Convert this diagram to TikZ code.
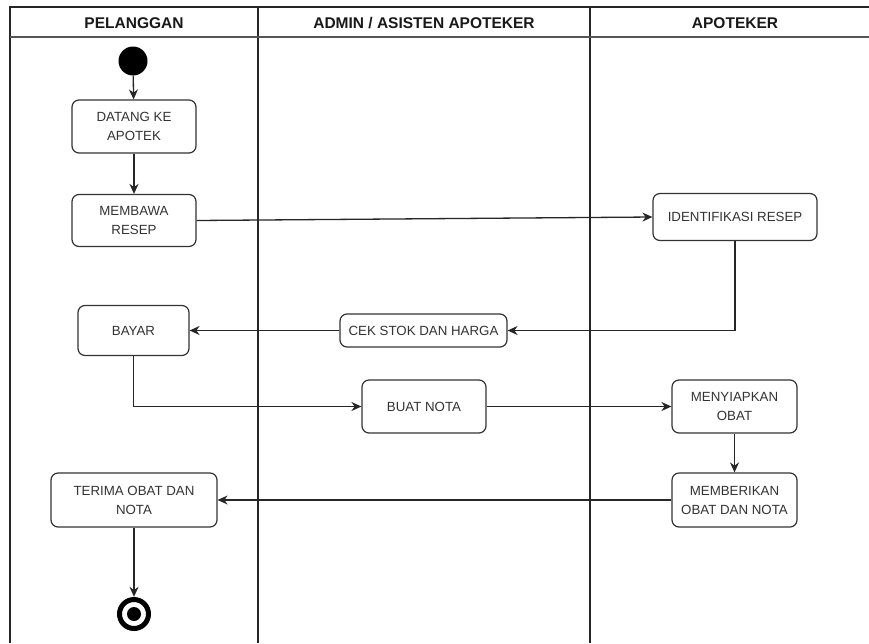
\documentclass[tikz,border=0pt]{standalone}
\usepackage{fontspec}
\setmainfont{Liberation Sans}
\usetikzlibrary{arrows.meta}
\definecolor{lineC}{HTML}{333333}
\definecolor{textC}{HTML}{333333}
\definecolor{headLine}{HTML}{555555}
\begin{document}
\begin{tikzpicture}[x=1pt,y=-1pt,
  act/.style={draw=lineC, line width=1.2pt, rounded corners=7pt, fill=white,
    align=center, font=\fontsize{13.3}{19}\selectfont, text=textC, inner sep=0pt},
  lane/.style={draw=black!85, line width=1.3pt},
  head/.style={font=\bfseries\fontsize{15.5}{18}\selectfont, text=black!90},
  flow/.style={draw=black!85, line width=1.3pt, -{Stealth[length=10pt,width=9pt]}},
  startnode/.style={circle, fill=black, minimum size=29pt, inner sep=0pt},
]
\useasboundingbox (0,0) rectangle (869,643);
\fill[white] (0,0) rectangle (869,643);

% swimlane frame
\draw[lane] (10,643) -- (10,7) -- (869,7);
\draw[lane] (258,7) -- (258,643);
\draw[lane] (590,7) -- (590,643);
\draw[draw=headLine, line width=2.2pt] (10,37) -- (869,37);

\node[head] (h1) at (134,23) {PELANGGAN};
\node[head] (h2) at (424,23) {ADMIN / ASISTEN APOTEKER};
\node[head] (h3) at (735,23) {APOTEKER};

% nodes
\node[startnode] (start) at (133,61) {};
\node[act, minimum width=124pt, minimum height=53pt] (datang) at (134,126.5) {DATANG KE\\APOTEK};
\node[act, minimum width=124pt, minimum height=52pt] (membawa) at (134,220.5) {MEMBAWA\\RESEP};
\node[act, minimum width=164pt, minimum height=47pt] (ident) at (735,217) {IDENTIFIKASI RESEP};
\node[act, minimum width=167pt, minimum height=33pt] (cek) at (423.5,330.5) {CEK STOK DAN HARGA};
\node[act, minimum width=111pt, minimum height=50pt] (bayar) at (133.5,330.5) {BAYAR};
\node[act, minimum width=124pt, minimum height=53pt] (buat) at (424,406.5) {BUAT NOTA};
\node[act, minimum width=125pt, minimum height=53pt] (meny) at (734.5,406.5) {MENYIAPKAN\\OBAT};
\node[act, minimum width=125pt, minimum height=54pt] (memb) at (734.5,500) {MEMBERIKAN\\OBAT DAN NOTA};
\node[act, minimum width=166pt, minimum height=54pt] (terima) at (134,500) {TERIMA OBAT DAN\\NOTA};
\node[circle, minimum size=34pt, inner sep=0pt] (final) at (134,614) {};
\draw[black, line width=5pt] (final.center) circle[radius=14.5pt];
\fill[black] (final.center) circle[radius=7pt];

% connectors
\draw[flow] (start) -- (datang);
\draw[flow, line width=2pt] (datang) -- (membawa);
\draw[flow] (membawa.east) -- (ident.west);
\draw[flow] (ident.south) |- (cek.east);
\draw[flow] (cek.west) -- (bayar.east);
\draw[flow] (bayar.south) |- (buat.west);
\draw[flow] (buat.east) -- (meny.west);
\draw[flow] (meny.south) -- (memb.north);
\draw[flow] (memb.west) -- (terima.east);
\draw[flow] (terima.south) -- (final.north);
\end{tikzpicture}
\end{document}
